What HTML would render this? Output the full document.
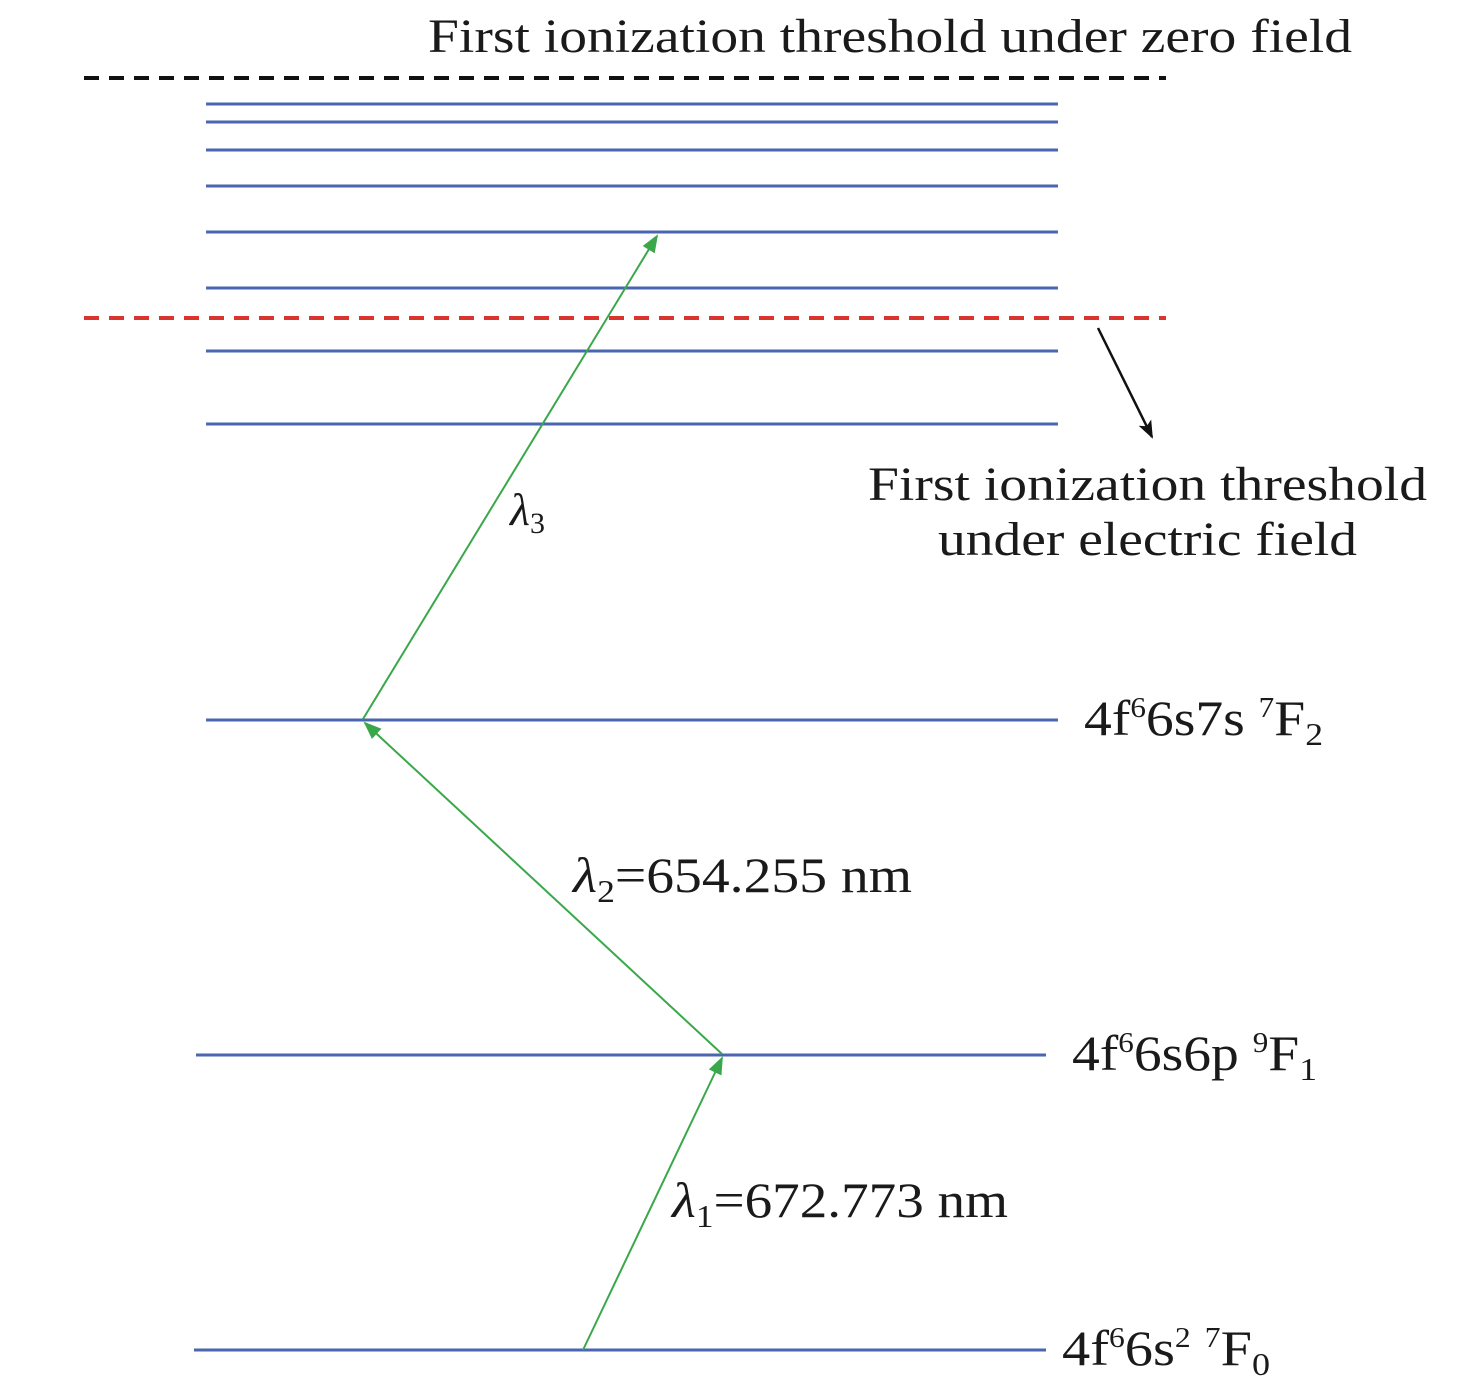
<!DOCTYPE html>
<html><head><meta charset="utf-8"><style>
html,body{margin:0;padding:0;background:#fff;width:1476px;height:1398px;overflow:hidden}
svg{display:block}
text{font-family:"Liberation Serif",serif;fill:#1a1a1a}
</style></head><body>
<svg width="1476" height="1398" viewBox="0 0 1476 1398" xmlns="http://www.w3.org/2000/svg">
<defs>
<marker id="gb" markerWidth="18" markerHeight="14" refX="16" refY="7" orient="auto" markerUnits="userSpaceOnUse"><path d="M0,0 L18,7 L0,14 z" fill="#3aa84a"/></marker>
<marker id="k" markerWidth="18" markerHeight="14" refX="16" refY="7" orient="auto" markerUnits="userSpaceOnUse"><path d="M0,0 L18,7 L0,14 L4,7 z" fill="#111"/></marker>
</defs>
<text x="428" y="52" font-size="48" textLength="924" lengthAdjust="spacingAndGlyphs">First ionization threshold under zero field</text>
<line x1="84" y1="78" x2="1166" y2="78" stroke="#111" stroke-width="4" stroke-dasharray="15 10"/>
<line x1="84" y1="318" x2="1166" y2="318" stroke="#d9352e" stroke-width="4" stroke-dasharray="15 10"/>
<g stroke="#4a66b0" stroke-width="3">
<line x1="206" y1="104" x2="1058" y2="104"/>
<line x1="206" y1="122" x2="1058" y2="122"/>
<line x1="206" y1="150" x2="1058" y2="150"/>
<line x1="206" y1="186" x2="1058" y2="186"/>
<line x1="206" y1="232" x2="1058" y2="232"/>
<line x1="206" y1="288" x2="1058" y2="288"/>
<line x1="206" y1="351" x2="1058" y2="351"/>
<line x1="206" y1="424" x2="1058" y2="424"/>
<line x1="206" y1="720" x2="1058" y2="720"/>
<line x1="196" y1="1055" x2="1046" y2="1055"/>
<line x1="194" y1="1350" x2="1046" y2="1350"/>
</g>
<g stroke="#3aa84a" stroke-width="2" fill="none">
<line x1="583" y1="1350" x2="722" y2="1058" marker-end="url(#gb)"/>
<line x1="722" y1="1054" x2="365" y2="723" marker-end="url(#gb)"/>
<line x1="363" y1="719" x2="657" y2="236" marker-end="url(#gb)"/>
</g>
<line x1="1098" y1="328" x2="1152" y2="437" stroke="#111" stroke-width="2.5" marker-end="url(#k)"/>
<text x="868" y="500" font-size="48" textLength="559" lengthAdjust="spacingAndGlyphs">First ionization threshold</text>
<text x="938" y="555" font-size="48" textLength="419" lengthAdjust="spacingAndGlyphs">under electric field</text>
<text x="510" y="525" font-size="46"><tspan font-style="italic">λ</tspan><tspan font-size="30" dy="8">3</tspan></text>
<text x="573" y="892" font-size="50" textLength="339" lengthAdjust="spacingAndGlyphs"><tspan font-style="italic">λ</tspan><tspan font-size="32" dy="10">2</tspan><tspan dy="-10">=654.255 nm</tspan></text>
<text x="672" y="1217" font-size="50" textLength="336" lengthAdjust="spacingAndGlyphs"><tspan font-style="italic">λ</tspan><tspan font-size="32" dy="10">1</tspan><tspan dy="-10">=672.773 nm</tspan></text>
<text x="1084" y="735" font-size="50" textLength="239" lengthAdjust="spacingAndGlyphs">4f<tspan font-size="28" dy="-18">6</tspan><tspan dy="18">6s7s </tspan><tspan font-size="28" dy="-18">7</tspan><tspan dy="18">F</tspan><tspan font-size="32" dy="10">2</tspan></text>
<text x="1072" y="1070" font-size="50" textLength="245" lengthAdjust="spacingAndGlyphs">4f<tspan font-size="28" dy="-18">6</tspan><tspan dy="18">6s6p </tspan><tspan font-size="28" dy="-18">9</tspan><tspan dy="18">F</tspan><tspan font-size="32" dy="10">1</tspan></text>
<text x="1062" y="1365" font-size="50" textLength="208" lengthAdjust="spacingAndGlyphs">4f<tspan font-size="28" dy="-18">6</tspan><tspan dy="18">6s</tspan><tspan font-size="28" dy="-18">2</tspan><tspan dy="18"> </tspan><tspan font-size="28" dy="-18">7</tspan><tspan dy="18">F</tspan><tspan font-size="32" dy="10">0</tspan></text>
</svg>
</body></html>
